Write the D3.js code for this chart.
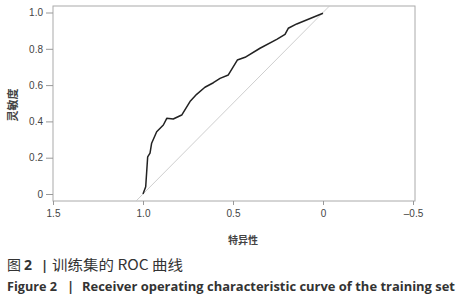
<!DOCTYPE html>
<html>
<head>
<meta charset="UTF-8" />
<script src="https://d3js.org/d3.v7.min.js"></script>
<style>
  body { margin: 0; background: #fff; }
  .axis text { font-family: "Liberation Sans", "DejaVu Sans", sans-serif; font-size: 10px; fill: #444; }
  .axis line, .axis path { stroke: #999; }
</style>
</head>
<body>
<svg id="svg1" width="465" height="300"></svg>
<script>
  // ROC curve
  const specificity = [1.0, 0.985, 0.974, 0.961, 0.952, 0.924, 0.887, 0.868, 0.832, 0.785, 0.739, 0.702,
                       0.656, 0.609, 0.572, 0.526, 0.476, 0.433, 0.35, 0.257, 0.211, 0.193, 0.146, 0.0];
  const sensitivity = [0.0, 0.04, 0.205, 0.225, 0.28, 0.343, 0.38, 0.417, 0.413, 0.435, 0.509, 0.549,
                       0.588, 0.613, 0.637, 0.656, 0.738, 0.753, 0.803, 0.852, 0.88, 0.913, 0.937, 0.996];
  const xTicks = [1.5, 1.0, 0.5, 0, -0.5];
  const yTicks = [0, 0.2, 0.4, 0.6, 0.8, 1.0];

  const svg = d3.select("#svg1");
  const box = {left: 53, right: 415, top: 6, bottom: 201};

  const x = d3.scaleLinear().domain([1.5, -0.5]).range([53, 413]);
  const y = d3.scaleLinear().domain([0, 1]).range([194, 12.5]);

  // frame
  svg.append("rect")
     .attr("x", box.left).attr("y", box.top)
     .attr("width", box.right - box.left).attr("height", box.bottom - box.top)
     .attr("fill", "none").attr("stroke", "#aaa").attr("stroke-width", 1);

  // reference diagonal across the whole y range
  const y0 = y.invert(box.bottom), y1 = y.invert(box.top);
  svg.append("line")
     .attr("x1", x(1 - y0)).attr("y1", y(y0))
     .attr("x2", x(1 - y1)).attr("y2", y(y1))
     .attr("stroke", "#c8c8c8").attr("stroke-width", 0.9);

  // axes
  const fmt = d => d === 0 ? "0" : d.toFixed(1).replace("-", "\u2013");
  svg.append("g").attr("class", "axis")
     .attr("transform", "translate(" + box.left + ",0)")
     .call(d3.axisLeft(y).tickValues(yTicks).tickFormat(fmt).tickSize(7).tickPadding(3).tickSizeOuter(0))
     .select(".domain").remove();
  svg.append("g").attr("class", "axis")
     .attr("transform", "translate(0," + box.bottom + ")")
     .call(d3.axisBottom(x).tickValues(xTicks).tickFormat(fmt).tickSize(4).tickPadding(5).tickSizeOuter(0))
     .select(".domain").remove();

  // ROC curve
  const pts = specificity.map((s, i) => [s, sensitivity[i]]);
  svg.append("path")
     .attr("d", d3.line().x(d => x(d[0])).y(d => y(d[1]))(pts))
     .attr("fill", "none").attr("stroke", "#222").attr("stroke-width", 1.5)
     .attr("stroke-linejoin", "round");

  // axis titles
  svg.append("text")
     .attr("transform", "translate(17,105) rotate(-90)")
     .attr("text-anchor", "middle")
     .style("font-family", "'Noto Sans CJK SC', sans-serif").style("font-size", "11px")
     .style("font-weight", "bold").style("fill", "#444")
     .text("灵敏度");
  svg.append("text")
     .attr("x", 243).attr("y", 244)
     .attr("text-anchor", "middle")
     .style("font-family", "'Noto Sans CJK SC', sans-serif").style("font-size", "10px")
     .style("font-weight", "bold").style("fill", "#444")
     .text("特异性");

  // captions
  const cap = (txt, xPos, yPos, opts) => {
    const t = svg.append("text").attr("x", xPos).attr("y", yPos)
      .style("font-family", opts.font).style("font-size", opts.size + "px")
      .style("font-weight", opts.bold ? "bold" : "normal").style("fill", "#333")
      .text(txt);
    if (opts.len) t.attr("textLength", opts.len).attr("lengthAdjust", "spacingAndGlyphs");
  };
  const cjk = "'Noto Sans CJK SC', sans-serif", lat = "'Open Sans', sans-serif";
  cap("图", 7, 270, {font: cjk, size: 14});
  cap("2", 24, 270, {font: lat, size: 14, bold: true});
  cap("|", 41, 270, {font: lat, size: 13, bold: true});
  cap("训练集的 ROC 曲线", 52, 270, {font: cjk, size: 14, len: 131});

  cap("Figure 2", 7, 291, {font: lat, size: 13, bold: true, len: 50});
  cap("|", 67, 291, {font: lat, size: 13, bold: true});
  cap("Receiver operating characteristic curve of the training set", 82, 291,
      {font: lat, size: 13, bold: true, len: 373});
</script>
</body>
</html>
